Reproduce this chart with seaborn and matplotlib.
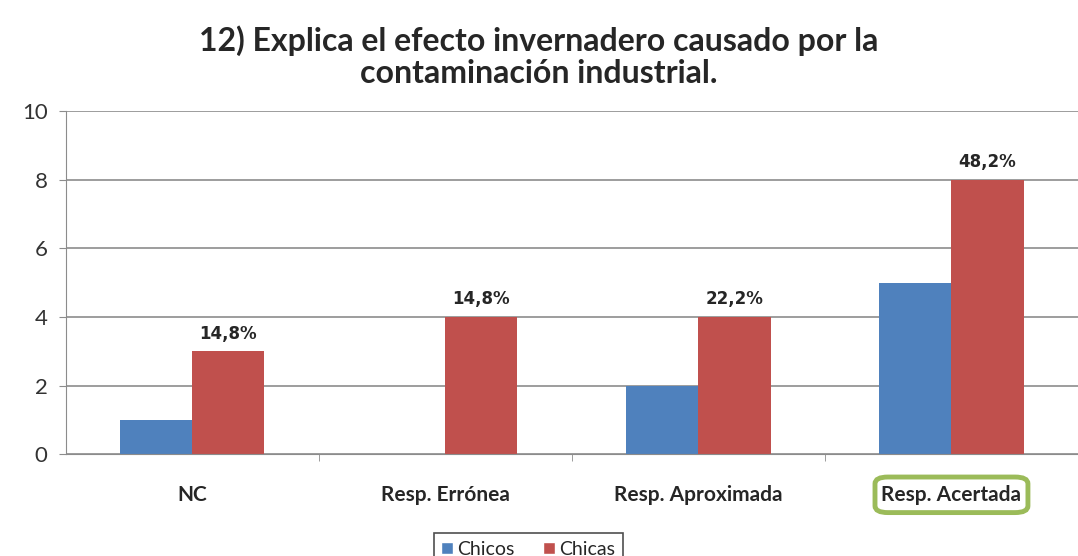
import pandas as pd
import seaborn as sns
import matplotlib.pyplot as plt
from matplotlib.patches import FancyBboxPatch, Patch

# Data
categories = ["NC", "Resp. Errónea", "Resp. Aproximada", "Resp. Acertada"]
chicos = [1, 0, 2, 5]
chicas = [3, 4, 4, 8]
chicas_labels = ["14,8%", "14,8%", "22,2%", "48,2%"]
series = ["Chicos", "Chicas"]
colors = ["#4F81BD", "#C0504D"]

df = pd.DataFrame({
    "categoria": categories * 2,
    "grupo": [series[0]] * 4 + [series[1]] * 4,
    "valor": chicos + chicas,
})

sns.set_style("white")
plt.rcParams["font.family"] = ["Lato", "DejaVu Sans"]

fig = plt.figure(figsize=(10.78, 5.56), dpi=100)
ax = fig.add_axes([0.061, 0.183, 0.939, 0.617])

sns.barplot(data=df, x="categoria", y="valor", hue="grupo", order=categories,
            hue_order=series, palette=colors, width=0.57, saturation=1,
            linewidth=0, ax=ax, legend=False)

ax.set_ylim(0, 10)
ax.set_xlim(-0.5, 3.5)
ax.set_yticks(range(0, 11, 2))
ax.yaxis.grid(True, color="#8c8c8c", linewidth=1.2)
ax.set_axisbelow(True)
for s in ["top", "right"]:
    ax.spines[s].set_visible(False)
ax.spines["left"].set_color("#8c8c8c")
ax.spines["bottom"].set_color("#8c8c8c")
ax.set_xlabel("")
ax.set_ylabel("")
ax.tick_params(axis="y", labelsize=16, colors="#333333", length=5, left=True,
               color="#8c8c8c", pad=8)
ax.tick_params(axis="x", labelsize=15, length=0, pad=22)
for lab in ax.get_xticklabels():
    lab.set_fontweight("bold")
# minor ticks at the category boundaries
ax.set_xticks([0.5, 1.5, 2.5], minor=True)
ax.tick_params(axis="x", which="minor", length=5, color="#8c8c8c", bottom=True)

# labels above the Chicas bars
red_bars = ax.containers[1]
for bar, txt in zip(red_bars, chicas_labels):
    ax.text(bar.get_x() + bar.get_width() / 2, bar.get_height() + 0.25, txt,
            ha="center", va="bottom", fontsize=12, fontweight="semibold",
            family="DejaVu Sans")

fig.suptitle("12) Explica el efecto invernadero causado por la\ncontaminación industrial.",
             x=0.5, y=0.955, fontsize=23, fontweight="bold", linespacing=1.15)

# green rounded box around the last category label
lbl = ax.get_xticklabels()[3]
fig.canvas.draw()
bb = lbl.get_window_extent().transformed(fig.transFigure.inverted())
box = FancyBboxPatch((bb.x0 - 0.006, bb.y0 - 0.014), bb.width + 0.012, bb.height + 0.028,
                     boxstyle="round,pad=0,rounding_size=0.012",
                     transform=fig.transFigure, fill=False,
                     edgecolor="#9BBB59", linewidth=3.5)
fig.patches.append(box)

handles = [Patch(facecolor=c, label=s) for c, s in zip(colors, series)]
leg = fig.legend(handles=handles, loc="lower center", bbox_to_anchor=(0.49, -0.035),
                 ncol=2, frameon=True, fancybox=False, fontsize=14,
                 handlelength=0.6, handleheight=0.6, handletextpad=0.2,
                 columnspacing=1.5, borderpad=0.4)
leg.get_frame().set_edgecolor("#222222")
leg.get_frame().set_linewidth(1.2)

fig.savefig("out.png", dpi=100)
